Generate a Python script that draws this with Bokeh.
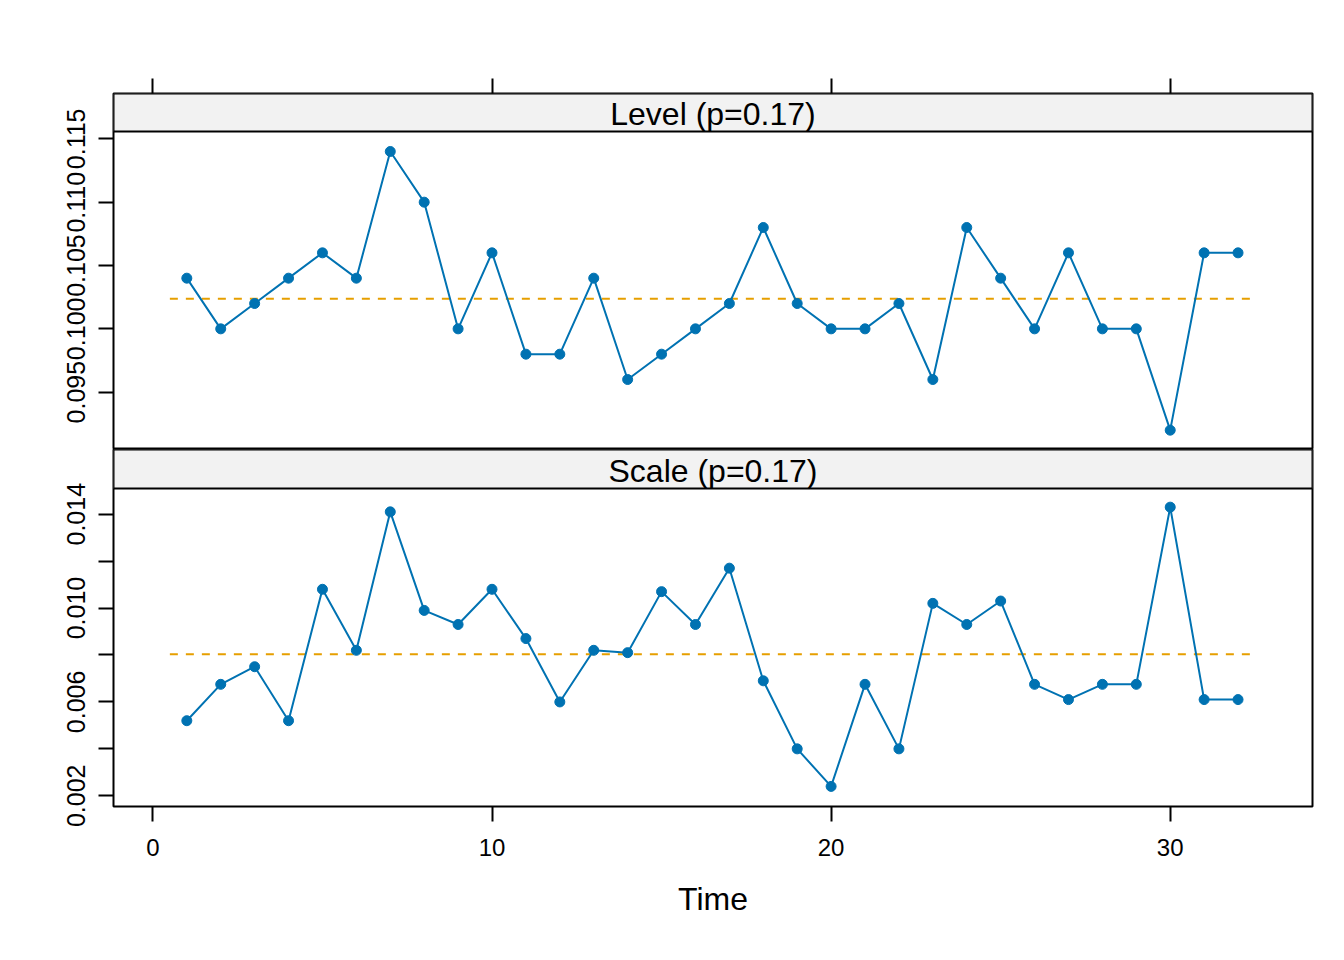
from bokeh.plotting import figure
from bokeh.layouts import column
from bokeh.models import FixedTicker, PrintfTickFormatter, LinearAxis, Range1d
from bokeh.embed import file_html
from bokeh.resources import INLINE
from bokeh.core.properties import value

# ---------------- data ----------------
time = [1, 2, 3, 4, 5, 6, 7, 8, 9, 10, 11, 12, 13, 14, 15, 16,
        17, 18, 19, 20, 21, 22, 23, 24, 25, 26, 27, 28, 29, 30, 31, 32]
level = [0.104, 0.100, 0.102, 0.104, 0.106, 0.104, 0.114, 0.110,
         0.100, 0.106, 0.098, 0.098, 0.104, 0.096, 0.098, 0.100,
         0.102, 0.108, 0.102, 0.100, 0.100, 0.102, 0.096, 0.108,
         0.104, 0.100, 0.106, 0.100, 0.100, 0.092, 0.106, 0.106]
scale = [0.0052, 0.00675, 0.0075, 0.0052, 0.0108, 0.0082, 0.0141, 0.0099,
         0.0093, 0.0108, 0.0087, 0.0060, 0.0082, 0.0081, 0.0107, 0.0093,
         0.0117, 0.0069, 0.0040, 0.0024, 0.00675, 0.0040, 0.0102, 0.0093,
         0.0103, 0.00675, 0.0061, 0.00675, 0.00675, 0.0143, 0.0061, 0.0061]
strip_labels = ["Level (p=0.17)", "Scale (p=0.17)"]
x_ticks = [0, 10, 20, 30]
level_ticks = [0.095, 0.100, 0.105, 0.110, 0.115]
scale_major = [0.002, 0.006, 0.010, 0.014]
scale_minor = [0.004, 0.008, 0.012]
x_label = "Time"

# ---------------- style / layout ----------------
FONT = "Liberation Sans"
BLUE = "#0072B2"
ORANGE = "#E69F00"
STRIP_BG = "#F2F2F2"
W = 1328
LB = 113
RB = 16
PANEL_H = 318
XR = Range1d(-1.162, 34.196)


def style_axis(ax, size="24px"):
    ax.axis_line_color = None
    ax.major_tick_line_color = "black"
    ax.major_tick_line_width = 2
    ax.minor_tick_line_color = "black"
    ax.minor_tick_line_width = 2
    ax.major_tick_in = 0
    ax.major_tick_out = 15
    ax.minor_tick_in = 0
    ax.minor_tick_out = 15
    ax.major_label_text_font = FONT
    ax.major_label_text_font_size = size
    ax.major_label_text_color = "black"


def panel(values, lo, hi, strip_h, label, top=0, bottom=0):
    # frame = strip (above) + panel; y range extended over the strip
    per = PANEL_H / (hi - lo)
    strip_top = hi + strip_h / per
    p = figure(width=W, height=top + strip_h + PANEL_H + bottom,
               x_range=XR, y_range=Range1d(lo, strip_top),
               output_backend="svg", toolbar_location=None,
               min_border_left=LB, min_border_right=RB,
               min_border_top=top, min_border_bottom=bottom,
               x_axis_location=None, y_axis_location=None,
               background_fill_color="white", border_fill_color="white")
    p.grid.visible = False
    p.outline_line_color = "black"
    p.outline_line_width = 2
    # strip
    p.quad(left=[XR.start], right=[XR.end], bottom=[hi], top=[strip_top],
           fill_color=STRIP_BG, line_color="black", line_width=2)
    p.text(x=[(XR.start + XR.end) / 2], y=[hi + 17.5 / per], text=[label],
           text_font=value(FONT), text_font_size="32px",
           text_align="center", text_baseline="middle", text_color="black")
    # data
    m = sum(values) / len(values)
    p.line([min(time) - 0.5, max(time) + 0.5], [m, m], line_color=ORANGE,
           line_width=2, line_dash="8 8")
    p.line(time, values, line_color=BLUE, line_width=2)
    p.scatter(time, values, size=10, fill_color=BLUE, line_color=BLUE)
    return p


# level panel (with top strip and top ticks)
f1 = panel(level, 0.090475, 0.115579, 38, strip_labels[0], top=93)
top_ax = LinearAxis(ticker=FixedTicker(ticks=x_ticks),
                    major_label_overrides={t: "" for t in x_ticks})
style_axis(top_ax)
f1.add_layout(top_ax, "above")
ly = LinearAxis(ticker=FixedTicker(ticks=level_ticks),
                formatter=PrintfTickFormatter(format="%.3f"),
                bounds=(0.090475, 0.115579))
style_axis(ly, "25px")
ly.major_label_orientation = "vertical"
ly.major_label_standoff = 13
f1.add_layout(ly, "left")

# scale panel
f2 = panel(scale, 0.001544, 0.015095, 39, strip_labels[1], bottom=120)
sy = LinearAxis(ticker=FixedTicker(ticks=scale_major, minor_ticks=scale_minor),
                formatter=PrintfTickFormatter(format="%.3f"),
                bounds=(0.001544, 0.015095))
style_axis(sy, "25px")
sy.major_label_orientation = "vertical"
sy.major_label_standoff = 13
f2.add_layout(sy, "left")
bx = LinearAxis(ticker=FixedTicker(ticks=x_ticks), axis_label=x_label)
style_axis(bx)
bx.major_label_standoff = 17
bx.axis_label_text_font = FONT
bx.axis_label_text_font_size = "32px"
bx.axis_label_text_font_style = "normal"
bx.axis_label_text_color = "black"
bx.axis_label_standoff = 22
f2.add_layout(bx, "below")

layout = column(f1, f2, spacing=0)
open("out.html", "w").write(file_html(layout, INLINE))
